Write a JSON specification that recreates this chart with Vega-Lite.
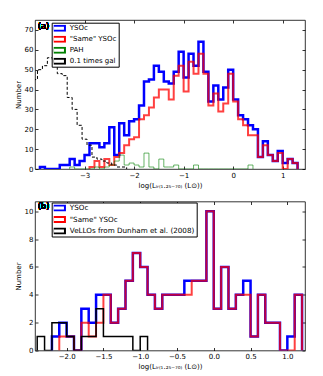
{
  "$schema": "https://vega.github.io/schema/vega-lite/v6.json",
  "padding": {"left": 13, "top": 19, "right": 5, "bottom": 2},
  "background": "white",
  "config": {
    "font": "DejaVu Sans",
    "view": {"stroke": "black", "strokeWidth": 0.8},
    "line": {"strokeJoin": "miter", "strokeCap": "butt"},
    "axis": {"grid": false, "domain": false, "labelFontSize": 7, "titleFontSize": 7, "titleFontWeight": "normal", "labelColor": "black", "titleColor": "black", "tickColor": "black", "tickSize": -3, "tickWidth": 0.8, "labelPadding": 5, "titlePadding": 3, "labelFlush": false, "labelOverlap": false}
  },
  "datasets": {
    "a": [
      {"s":"YSOc","x":-3.9,"n":0},{"s":"YSOc","x":-3.9,"n":1},{"s":"YSOc","x":-3.8,"n":0},{"s":"YSOc","x":-3.7,"n":0},{"s":"YSOc","x":-3.6,"n":0},{"s":"YSOc","x":-3.5,"n":2},{"s":"YSOc","x":-3.4,"n":2},{"s":"YSOc","x":-3.3,"n":5},{"s":"YSOc","x":-3.2,"n":2},{"s":"YSOc","x":-3.1,"n":4},{"s":"YSOc","x":-3.0,"n":7},{"s":"YSOc","x":-2.9,"n":13},{"s":"YSOc","x":-2.8,"n":13},{"s":"YSOc","x":-2.7,"n":11},{"s":"YSOc","x":-2.6,"n":13},{"s":"YSOc","x":-2.5,"n":21},{"s":"YSOc","x":-2.4,"n":7},{"s":"YSOc","x":-2.3,"n":23},{"s":"YSOc","x":-2.2,"n":17},{"s":"YSOc","x":-2.1,"n":24},{"s":"YSOc","x":-2.0,"n":25},{"s":"YSOc","x":-1.9,"n":32},{"s":"YSOc","x":-1.8,"n":44},{"s":"YSOc","x":-1.7,"n":45},{"s":"YSOc","x":-1.6,"n":52},{"s":"YSOc","x":-1.5,"n":49},{"s":"YSOc","x":-1.4,"n":44},{"s":"YSOc","x":-1.3,"n":43},{"s":"YSOc","x":-1.2,"n":49},{"s":"YSOc","x":-1.1,"n":59},{"s":"YSOc","x":-1.0,"n":46},{"s":"YSOc","x":-0.9,"n":58},{"s":"YSOc","x":-0.8,"n":52},{"s":"YSOc","x":-0.7,"n":64},{"s":"YSOc","x":-0.6,"n":49},{"s":"YSOc","x":-0.5,"n":34},{"s":"YSOc","x":-0.4,"n":42},{"s":"YSOc","x":-0.3,"n":35},{"s":"YSOc","x":-0.2,"n":41},{"s":"YSOc","x":-0.1,"n":50},{"s":"YSOc","x":0.0,"n":35},{"s":"YSOc","x":0.1,"n":27},{"s":"YSOc","x":0.2,"n":25},{"s":"YSOc","x":0.3,"n":22},{"s":"YSOc","x":0.4,"n":20},{"s":"YSOc","x":0.5,"n":6},{"s":"YSOc","x":0.6,"n":14},{"s":"YSOc","x":0.7,"n":7},{"s":"YSOc","x":0.8,"n":4},{"s":"YSOc","x":0.9,"n":9},{"s":"YSOc","x":1.0,"n":3},{"s":"YSOc","x":1.1,"n":5},{"s":"YSOc","x":1.2,"n":3},{"s":"YSOc","x":1.3,"n":0},
      {"s":"\"Same\" YSOc","x":-2.9,"n":0},{"s":"\"Same\" YSOc","x":-2.9,"n":1},{"s":"\"Same\" YSOc","x":-2.8,"n":4},{"s":"\"Same\" YSOc","x":-2.7,"n":1},{"s":"\"Same\" YSOc","x":-2.6,"n":5},{"s":"\"Same\" YSOc","x":-2.5,"n":2},{"s":"\"Same\" YSOc","x":-2.4,"n":6},{"s":"\"Same\" YSOc","x":-2.3,"n":8},{"s":"\"Same\" YSOc","x":-2.2,"n":12},{"s":"\"Same\" YSOc","x":-2.1,"n":15},{"s":"\"Same\" YSOc","x":-2.0,"n":16},{"s":"\"Same\" YSOc","x":-1.9,"n":25},{"s":"\"Same\" YSOc","x":-1.8,"n":27},{"s":"\"Same\" YSOc","x":-1.7,"n":31},{"s":"\"Same\" YSOc","x":-1.6,"n":36},{"s":"\"Same\" YSOc","x":-1.5,"n":40},{"s":"\"Same\" YSOc","x":-1.4,"n":40},{"s":"\"Same\" YSOc","x":-1.3,"n":35},{"s":"\"Same\" YSOc","x":-1.2,"n":47},{"s":"\"Same\" YSOc","x":-1.1,"n":52},{"s":"\"Same\" YSOc","x":-1.0,"n":39},{"s":"\"Same\" YSOc","x":-0.9,"n":54},{"s":"\"Same\" YSOc","x":-0.8,"n":48},{"s":"\"Same\" YSOc","x":-0.7,"n":58},{"s":"\"Same\" YSOc","x":-0.6,"n":48},{"s":"\"Same\" YSOc","x":-0.5,"n":32},{"s":"\"Same\" YSOc","x":-0.4,"n":38},{"s":"\"Same\" YSOc","x":-0.3,"n":29},{"s":"\"Same\" YSOc","x":-0.2,"n":33},{"s":"\"Same\" YSOc","x":-0.1,"n":48},{"s":"\"Same\" YSOc","x":0.0,"n":34},{"s":"\"Same\" YSOc","x":0.1,"n":25},{"s":"\"Same\" YSOc","x":0.2,"n":22},{"s":"\"Same\" YSOc","x":0.3,"n":17},{"s":"\"Same\" YSOc","x":0.4,"n":17},{"s":"\"Same\" YSOc","x":0.5,"n":6},{"s":"\"Same\" YSOc","x":0.6,"n":12},{"s":"\"Same\" YSOc","x":0.7,"n":7},{"s":"\"Same\" YSOc","x":0.8,"n":4},{"s":"\"Same\" YSOc","x":0.9,"n":8},{"s":"\"Same\" YSOc","x":1.0,"n":0},{"s":"\"Same\" YSOc","x":1.1,"n":5},{"s":"\"Same\" YSOc","x":1.2,"n":3},{"s":"\"Same\" YSOc","x":1.3,"n":0},
      {"s":"PAH","x":-3.3,"n":0},{"s":"PAH","x":-3.3,"n":1},{"s":"PAH","x":-3.2,"n":0},{"s":"PAH","x":-3.1,"n":0},{"s":"PAH","x":-3.0,"n":0},{"s":"PAH","x":-2.9,"n":0},{"s":"PAH","x":-2.8,"n":1},{"s":"PAH","x":-2.7,"n":0},{"s":"PAH","x":-2.6,"n":1},{"s":"PAH","x":-2.5,"n":2},{"s":"PAH","x":-2.4,"n":4},{"s":"PAH","x":-2.3,"n":7},{"s":"PAH","x":-2.2,"n":2},{"s":"PAH","x":-2.1,"n":3},{"s":"PAH","x":-2.0,"n":2},{"s":"PAH","x":-1.9,"n":1},{"s":"PAH","x":-1.8,"n":8},{"s":"PAH","x":-1.7,"n":1},{"s":"PAH","x":-1.6,"n":0},{"s":"PAH","x":-1.5,"n":5},{"s":"PAH","x":-1.4,"n":1},{"s":"PAH","x":-1.3,"n":1},{"s":"PAH","x":-1.2,"n":2},{"s":"PAH","x":-1.1,"n":0},{"s":"PAH","x":-1.0,"n":0},{"s":"PAH","x":-0.9,"n":0},{"s":"PAH","x":-0.8,"n":2},{"s":"PAH","x":-0.7,"n":0},{"s":"PAH","x":-0.6,"n":0},{"s":"PAH","x":-0.5,"n":0},{"s":"PAH","x":-0.4,"n":0},{"s":"PAH","x":-0.3,"n":0},{"s":"PAH","x":-0.2,"n":0},{"s":"PAH","x":-0.1,"n":0},{"s":"PAH","x":0.0,"n":0},{"s":"PAH","x":0.1,"n":0},{"s":"PAH","x":0.2,"n":0},{"s":"PAH","x":0.3,"n":2},{"s":"PAH","x":0.4,"n":0},
      {"s":"0.1 times gal","x":-4.05,"n":0},{"s":"0.1 times gal","x":-4.05,"n":45},{"s":"0.1 times gal","x":-3.95,"n":50},{"s":"0.1 times gal","x":-3.85,"n":52},{"s":"0.1 times gal","x":-3.75,"n":56},{"s":"0.1 times gal","x":-3.65,"n":55},{"s":"0.1 times gal","x":-3.55,"n":48},{"s":"0.1 times gal","x":-3.45,"n":47},{"s":"0.1 times gal","x":-3.35,"n":36},{"s":"0.1 times gal","x":-3.25,"n":30},{"s":"0.1 times gal","x":-3.15,"n":22},{"s":"0.1 times gal","x":-3.05,"n":15},{"s":"0.1 times gal","x":-2.95,"n":12},{"s":"0.1 times gal","x":-2.85,"n":6},{"s":"0.1 times gal","x":-2.75,"n":5},{"s":"0.1 times gal","x":-2.65,"n":4},{"s":"0.1 times gal","x":-2.55,"n":3},{"s":"0.1 times gal","x":-2.45,"n":2},{"s":"0.1 times gal","x":-2.35,"n":1},{"s":"0.1 times gal","x":-2.25,"n":1},{"s":"0.1 times gal","x":-2.15,"n":0}
    ],
    "b": [
      {"s":"YSOc","x":-2.2,"n":0},{"s":"YSOc","x":-2.2,"n":1},{"s":"YSOc","x":-2.1,"n":2},{"s":"YSOc","x":-2.0,"n":1},{"s":"YSOc","x":-1.9,"n":0},{"s":"YSOc","x":-1.8,"n":3},{"s":"YSOc","x":-1.7,"n":2},{"s":"YSOc","x":-1.6,"n":4},{"s":"YSOc","x":-1.5,"n":4},{"s":"YSOc","x":-1.4,"n":2},{"s":"YSOc","x":-1.3,"n":3},{"s":"YSOc","x":-1.2,"n":5},{"s":"YSOc","x":-1.1,"n":7},{"s":"YSOc","x":-1.0,"n":6},{"s":"YSOc","x":-0.9,"n":4},{"s":"YSOc","x":-0.8,"n":3},{"s":"YSOc","x":-0.7,"n":4},{"s":"YSOc","x":-0.6,"n":4},{"s":"YSOc","x":-0.5,"n":4},{"s":"YSOc","x":-0.4,"n":5},{"s":"YSOc","x":-0.3,"n":5},{"s":"YSOc","x":-0.2,"n":5},{"s":"YSOc","x":-0.1,"n":10},{"s":"YSOc","x":0.0,"n":3},{"s":"YSOc","x":0.1,"n":6},{"s":"YSOc","x":0.2,"n":3},{"s":"YSOc","x":0.3,"n":4},{"s":"YSOc","x":0.4,"n":5},{"s":"YSOc","x":0.5,"n":1},{"s":"YSOc","x":0.6,"n":4},{"s":"YSOc","x":0.7,"n":2},{"s":"YSOc","x":0.8,"n":2},{"s":"YSOc","x":0.9,"n":0},{"s":"YSOc","x":1.0,"n":1},{"s":"YSOc","x":1.1,"n":4},{"s":"YSOc","x":1.2,"n":0},
      {"s":"\"Same\" YSOc","x":-2.1,"n":0},{"s":"\"Same\" YSOc","x":-2.1,"n":1},{"s":"\"Same\" YSOc","x":-2.0,"n":1},{"s":"\"Same\" YSOc","x":-1.9,"n":0},{"s":"\"Same\" YSOc","x":-1.8,"n":2},{"s":"\"Same\" YSOc","x":-1.7,"n":1},{"s":"\"Same\" YSOc","x":-1.6,"n":2},{"s":"\"Same\" YSOc","x":-1.5,"n":4},{"s":"\"Same\" YSOc","x":-1.4,"n":2},{"s":"\"Same\" YSOc","x":-1.3,"n":3},{"s":"\"Same\" YSOc","x":-1.2,"n":5},{"s":"\"Same\" YSOc","x":-1.1,"n":7},{"s":"\"Same\" YSOc","x":-1.0,"n":6},{"s":"\"Same\" YSOc","x":-0.9,"n":4},{"s":"\"Same\" YSOc","x":-0.8,"n":3},{"s":"\"Same\" YSOc","x":-0.7,"n":4},{"s":"\"Same\" YSOc","x":-0.6,"n":4},{"s":"\"Same\" YSOc","x":-0.5,"n":4},{"s":"\"Same\" YSOc","x":-0.4,"n":4},{"s":"\"Same\" YSOc","x":-0.3,"n":5},{"s":"\"Same\" YSOc","x":-0.2,"n":5},{"s":"\"Same\" YSOc","x":-0.1,"n":10},{"s":"\"Same\" YSOc","x":0.0,"n":3},{"s":"\"Same\" YSOc","x":0.1,"n":6},{"s":"\"Same\" YSOc","x":0.2,"n":3},{"s":"\"Same\" YSOc","x":0.3,"n":4},{"s":"\"Same\" YSOc","x":0.4,"n":4},{"s":"\"Same\" YSOc","x":0.5,"n":1},{"s":"\"Same\" YSOc","x":0.6,"n":4},{"s":"\"Same\" YSOc","x":0.7,"n":2},{"s":"\"Same\" YSOc","x":0.8,"n":2},{"s":"\"Same\" YSOc","x":0.9,"n":0},{"s":"\"Same\" YSOc","x":1.0,"n":0},{"s":"\"Same\" YSOc","x":1.1,"n":4},{"s":"\"Same\" YSOc","x":1.2,"n":0},
      {"s":"VeLLOs from Dunham et al. (2008)","x":-2.4,"n":0},{"s":"VeLLOs from Dunham et al. (2008)","x":-2.4,"n":1},{"s":"VeLLOs from Dunham et al. (2008)","x":-2.3,"n":0},{"s":"VeLLOs from Dunham et al. (2008)","x":-2.2,"n":2},{"s":"VeLLOs from Dunham et al. (2008)","x":-2.1,"n":2},{"s":"VeLLOs from Dunham et al. (2008)","x":-2.0,"n":1},{"s":"VeLLOs from Dunham et al. (2008)","x":-1.9,"n":0},{"s":"VeLLOs from Dunham et al. (2008)","x":-1.8,"n":1},{"s":"VeLLOs from Dunham et al. (2008)","x":-1.7,"n":1},{"s":"VeLLOs from Dunham et al. (2008)","x":-1.6,"n":3},{"s":"VeLLOs from Dunham et al. (2008)","x":-1.5,"n":1},{"s":"VeLLOs from Dunham et al. (2008)","x":-1.4,"n":1},{"s":"VeLLOs from Dunham et al. (2008)","x":-1.3,"n":1},{"s":"VeLLOs from Dunham et al. (2008)","x":-1.2,"n":1},{"s":"VeLLOs from Dunham et al. (2008)","x":-1.1,"n":0},{"s":"VeLLOs from Dunham et al. (2008)","x":-1.0,"n":1},{"s":"VeLLOs from Dunham et al. (2008)","x":-0.9,"n":0}
    ]
  },
  "bounds": "flush",
  "spacing": 32.5,
  "vconcat": [
    {
      "width": 270,
      "height": 149,
      "data": {"name": "a"},
      "layer": [
        {
          "transform": [{"filter": {"field": "s", "equal": "YSOc"}}],
          "mark": {"type": "line", "interpolate": "step-after", "strokeWidth": 2.5, "clip": true},
          "encoding": {
            "x": {"field": "x", "type": "quantitative", "scale": {"domain": [-4.0, 1.45], "nice": false, "zero": false}, "axis": {"values": [-3, -2, -1, 0, 1], "format": "d", "title": "log(Lᵢᵣ₍₁.₂₅₋₇₀₎ (L⊙))"}},
            "y": {"field": "n", "type": "quantitative", "scale": {"domain": [0, 75], "nice": false}, "axis": {"values": [0, 10, 20, 30, 40, 50, 60, 70], "title": "Number"}},
            "color": {
              "field": "s", "type": "nominal",
              "scale": {"domain": ["YSOc", "\"Same\" YSOc", "PAH", "0.1 times gal"], "range": ["#0000ff", "#ff0000", "#008000", "#000000"]},
              "legend": {
                "title": null, "orient": "none", "legendX": 16.7, "legendY": 2.7,
                "symbolType": "M-1.7,-0.7H1.7V0.7H-1.7Z", "symbolSize": 49, "symbolOffset": 0.8, "symbolStrokeWidth": 2, "symbolFillColor": "transparent",
                "clipHeight": 7,
                "labelFontSize": 7, "labelOffset": 6.3, "rowPadding": 3, "padding": 2, "labelColor": "black",
                "strokeColor": "black", "fillColor": "white", "cornerRadius": 0, "labelLimit": 300,
                "encode": {"symbols": {"update": {
                  "strokeDash": {"signal": "datum.value === '0.1 times gal' ? [3, 2] : []"},
                  "strokeWidth": {"signal": "datum.value === 'YSOc' ? 2.5 : (datum.value === 'PAH' || datum.value === '0.1 times gal') ? 1 : 2"},
                  "opacity": {"signal": "datum.value === 'PAH' ? 0.6 : datum.value === '\"Same\" YSOc' ? 0.75 : 1"}
                }}}
              }
            },
            "order": {"value": null}
          }
        },
        {
          "transform": [{"filter": {"field": "s", "equal": "\"Same\" YSOc"}}],
          "mark": {"type": "line", "interpolate": "step-after", "strokeWidth": 2, "opacity": 0.75, "clip": true},
          "encoding": {
            "x": {"field": "x", "type": "quantitative", "axis": {"orient": "top", "values": [-3, -2, -1, 0, 1], "labels": false, "title": null}},
            "y": {"field": "n", "type": "quantitative", "axis": {"orient": "right", "values": [0, 10, 20, 30, 40, 50, 60, 70], "labels": false, "title": null}},
            "color": {"field": "s", "type": "nominal"},
            "order": {"value": null}
          }
        },
        {
          "transform": [{"filter": {"field": "s", "equal": "PAH"}}],
          "mark": {"type": "line", "interpolate": "step-after", "strokeWidth": 1, "opacity": 0.6, "clip": true},
          "encoding": {
            "x": {"field": "x", "type": "quantitative", "axis": null},
            "y": {"field": "n", "type": "quantitative", "axis": null},
            "color": {"field": "s", "type": "nominal"},
            "order": {"value": null}
          }
        },
        {
          "transform": [{"filter": {"field": "s", "equal": "0.1 times gal"}}],
          "mark": {"type": "line", "interpolate": "step-after", "strokeWidth": 1, "strokeDash": [3, 2], "clip": true},
          "encoding": {
            "x": {"field": "x", "type": "quantitative", "axis": null},
            "y": {"field": "n", "type": "quantitative", "axis": null},
            "color": {"field": "s", "type": "nominal"},
            "order": {"value": null}
          }
        },
        {
          "mark": {"type": "text", "align": "left", "baseline": "middle", "fontSize": 8, "color": "black"},
          "encoding": {
            "x": {"datum": -3.94, "type": "quantitative", "axis": null},
            "y": {"datum": 71.3, "type": "quantitative", "axis": null},
            "text": {"value": "(a)"}
          }
        }
      ],
      "resolve": {"axis": {"x": "independent", "y": "independent"}}
    },
    {
      "width": 270,
      "height": 149,
      "data": {"name": "b"},
      "layer": [
        {
          "transform": [{"filter": {"field": "s", "equal": "YSOc"}}],
          "mark": {"type": "line", "interpolate": "step-after", "strokeWidth": 2.5, "clip": true},
          "encoding": {
            "x": {"field": "x", "type": "quantitative", "scale": {"domain": [-2.43, 1.24], "nice": false, "zero": false}, "axis": {"values": [-2, -1.5, -1, -0.5, 0, 0.5, 1], "format": ".1f", "title": "log(Lᵢᵣ₍₁.₂₅₋₇₀₎ (L⊙))"}},
            "y": {"field": "n", "type": "quantitative", "scale": {"domain": [0, 10.7], "nice": false}, "axis": {"values": [0, 2, 4, 6, 8, 10], "title": "Number"}},
            "color": {
              "field": "s", "type": "nominal",
              "scale": {"domain": ["YSOc", "\"Same\" YSOc", "VeLLOs from Dunham et al. (2008)"], "range": ["#0000ff", "#ff0000", "#000000"]},
              "legend": {
                "title": null, "orient": "none", "legendX": 16.7, "legendY": 1,
                "symbolType": "M-1.7,-0.7H1.7V0.7H-1.7Z", "symbolSize": 49, "symbolOffset": 0.8, "symbolStrokeWidth": 2, "symbolFillColor": "transparent",
                "clipHeight": 7,
                "labelFontSize": 7.2, "labelOffset": 6.3, "rowPadding": 3.5, "padding": 2, "labelColor": "black",
                "strokeColor": "black", "fillColor": "white", "cornerRadius": 0, "labelLimit": 300,
                "encode": {"symbols": {"update": {
                  "strokeWidth": {"signal": "datum.value === 'YSOc' ? 2.5 : datum.value === '\"Same\" YSOc' ? 2 : 1.5"},
                  "opacity": {"signal": "datum.value === '\"Same\" YSOc' ? 0.75 : 1"}
                }}}
              }
            },
            "order": {"value": null}
          }
        },
        {
          "transform": [{"filter": {"field": "s", "equal": "\"Same\" YSOc"}}],
          "mark": {"type": "line", "interpolate": "step-after", "strokeWidth": 2, "opacity": 0.75, "clip": true},
          "encoding": {
            "x": {"field": "x", "type": "quantitative", "axis": {"orient": "top", "values": [-2, -1.5, -1, -0.5, 0, 0.5, 1], "labels": false, "title": null}},
            "y": {"field": "n", "type": "quantitative", "axis": {"orient": "right", "values": [0, 2, 4, 6, 8, 10], "labels": false, "title": null}},
            "color": {"field": "s", "type": "nominal"},
            "order": {"value": null}
          }
        },
        {
          "transform": [{"filter": {"field": "s", "equal": "VeLLOs from Dunham et al. (2008)"}}],
          "mark": {"type": "line", "interpolate": "step-after", "strokeWidth": 1.5, "clip": true},
          "encoding": {
            "x": {"field": "x", "type": "quantitative", "axis": null},
            "y": {"field": "n", "type": "quantitative", "axis": null},
            "color": {"field": "s", "type": "nominal"},
            "order": {"value": null}
          }
        },
        {
          "mark": {"type": "text", "align": "left", "baseline": "middle", "fontSize": 8, "color": "black"},
          "encoding": {
            "x": {"datum": -2.39, "type": "quantitative", "axis": null},
            "y": {"datum": 10.3, "type": "quantitative", "axis": null},
            "text": {"value": "(b)"}
          }
        }
      ],
      "resolve": {"axis": {"x": "independent", "y": "independent"}}
    }
  ],
  "resolve": {"scale": {"color": "independent"}, "legend": {"color": "independent"}}
}
